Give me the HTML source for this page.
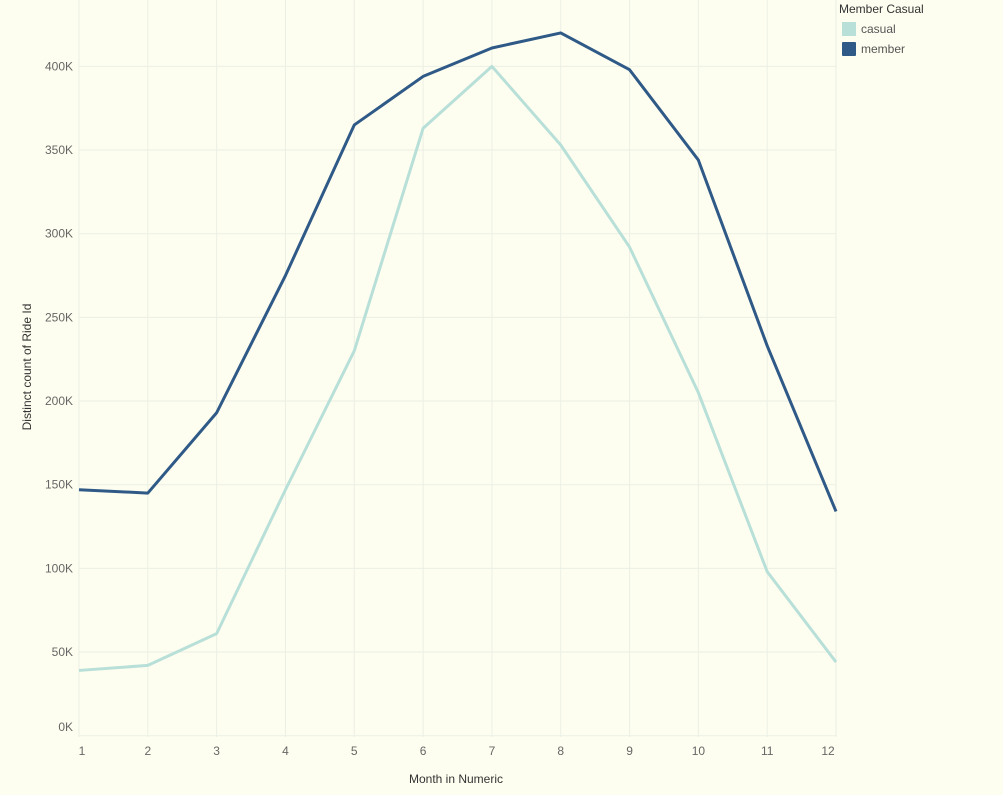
<!DOCTYPE html>
<html><head><meta charset="utf-8"><style>
body{margin:0;background:#fefef0;font-family:"Liberation Sans","DejaVu Sans",sans-serif}
svg text{font-family:"Liberation Sans","DejaVu Sans",sans-serif}
</style></head><body>
<svg id="c" width="1003" height="790">
<rect width="1003" height="790" fill="#fefef0"/>
<g id="grid"></g><g id="lines"></g><g id="axes"></g>
<text x="456" y="783" font-size="12" fill="#333" text-anchor="middle">Month in Numeric</text>
<text transform="translate(31,367) rotate(-90)" font-size="12" fill="#333" text-anchor="middle">Distinct count of Ride Id</text>
<g>
<text x="839" y="13" font-size="12" fill="#333">Member Casual</text>
<g><rect x="842" y="22" width="14" height="14" fill="#b8e0d8"/><text x="861" y="33" font-size="12" fill="#555">casual</text></g>
<g><rect x="842" y="42" width="14" height="14" rx="1" fill="#2f5a87"/><text x="861" y="53" font-size="12" fill="#555">member</text></g>
</g>
</svg>
<script>
const months=[1,2,3,4,5,6,7,8,9,10,11,12];
const member=[147,145,193,275,365,394,411,420,398,344,233,134];
const casual=[39,42,61,147,230,363,400,353,292,205,98,44];
const yTicks=[0,50,100,150,200,250,300,350,400];
const NS='http://www.w3.org/2000/svg';
const x=m=>79+(m-1)*68.82;
const y=v=>735.7-v*1.6733;
function mk(t,a,p){const e=document.createElementNS(NS,t);for(const k in a)e.setAttribute(k,a[k]);p.appendChild(e);return e;}
const g=document.getElementById('grid'),ax=document.getElementById('axes'),L=document.getElementById('lines');
yTicks.forEach(v=>{
 const l=mk('line',{x1:79,x2:836,y1:y(v),y2:y(v),stroke:'#ecefe4','stroke-width':1},g);
 
 
 const t=mk('text',{x:73,y:v===0?731:y(v)+4,'font-size':12,fill:'#666','text-anchor':'end'},ax);
 t.textContent=v+'K';
 
 
});
months.forEach(m=>{
 const l=mk('line',{x1:x(m),x2:x(m),y1:0,y2:737,stroke:'#ecefe4','stroke-width':1},g);
 
 
 const t=mk('text',{x:m===1?82:(m===12?828:x(m)),y:755,'font-size':12,fill:'#666','text-anchor':'middle'},ax);
 t.textContent=m;
 
 
});
function line(d,c,n){
 const p=mk('polyline',{points:d.map((v,i)=>x(months[i])+','+y(v)).join(' '),fill:'none',stroke:c,'stroke-width':3,'stroke-linejoin':'round'},L);
 
 
}
line(casual,'#b8e0d8','casual-line');
line(member,'#2f5a87','member-line');
</script>
</body></html>
